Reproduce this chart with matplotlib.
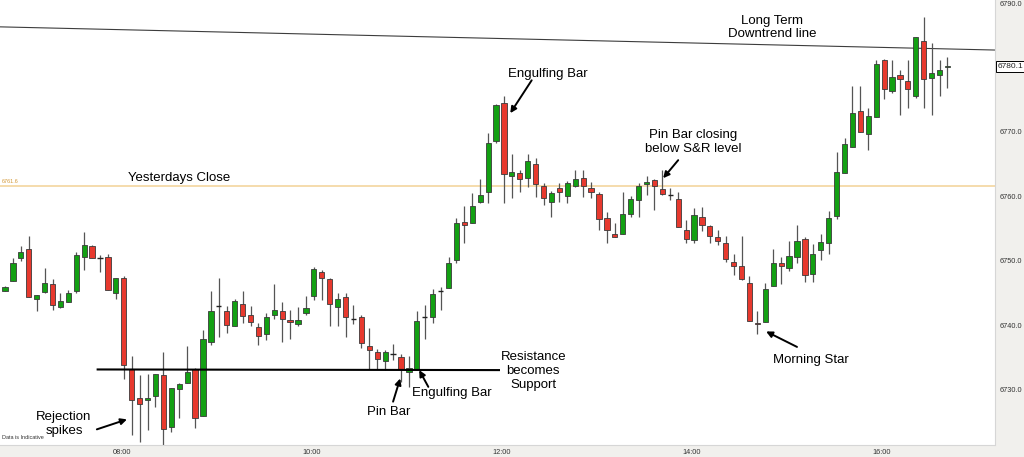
import matplotlib
matplotlib.use('Agg')
import matplotlib.pyplot as plt
import matplotlib.transforms as mtransforms
import numpy as np

# 5 minute bars
opens = [6745.3, 6746.8, 6750.4, 6751.8, 6744.0, 6745.1, 6746.3, 6742.8, 6743.5, 6745.3,
         6750.5, 6752.3, 6750.4, 6750.5, 6745.0, 6747.25, 6733.1, 6728.7, 6728.35, 6729.0,
         6732.2, 6724.2, 6730.0, 6731.0, 6733.1, 6725.9, 6737.3, 6743.0, 6742.2, 6739.8,
         6743.3, 6741.5, 6739.7, 6738.55, 6741.55, 6742.2, 6740.8, 6740.1, 6741.8, 6744.55,
         6748.3, 6747.1, 6742.8, 6744.3, 6741.0, 6741.3, 6736.8, 6735.8, 6734.4, 6735.5,
         6735.0, 6732.75, 6733.1, 6741.2, 6741.2, 6745.3, 6745.8, 6750.1, 6756.0, 6755.9,
         6759.15, 6760.7, 6768.6, 6774.5, 6763.2, 6763.55, 6762.8, 6765.0, 6761.6, 6759.15,
         6761.2, 6760.1, 6761.6, 6762.8, 6761.3, 6760.3, 6756.6, 6754.2, 6754.2, 6757.2,
         6759.4, 6761.9, 6762.5, 6761.1, 6760.2, 6759.6, 6754.75, 6753.2, 6756.7, 6755.3,
         6753.6, 6752.8, 6749.8, 6749.2, 6746.6, 6740.2, 6740.4, 6746.1, 6749.7, 6748.9,
         6750.6, 6753.3, 6747.9, 6751.6, 6752.8, 6757.0, 6763.65, 6767.7, 6773.2, 6769.65,
         6772.35, 6781.15, 6776.4, 6778.8, 6777.9, 6775.6, 6784.15, 6778.3, 6778.9, 6780.0]
highs = [6746.0, 6750.4, 6752.3, 6753.8, 6744.7, 6748.8, 6747.2, 6744.9, 6745.4, 6751.4,
         6754.5, 6752.5, 6750.9, 6751.0, 6747.25, 6747.6, 6735.2, 6732.2, 6732.4, 6732.4,
         6735.8, 6730.2, 6731.0, 6736.8, 6733.3, 6739.3, 6745.3, 6747.35, 6743.0, 6744.0,
         6745.3, 6743.0, 6740.3, 6741.8, 6746.4, 6743.5, 6742.3, 6742.8, 6744.5, 6749.0,
         6748.6, 6747.3, 6744.9, 6744.9, 6743.1, 6741.6, 6739.5, 6736.3, 6736.1, 6737.05,
         6735.5, 6735.2, 6742.1, 6743.1, 6745.55, 6745.9, 6750.5, 6756.6, 6758.5, 6760.55,
         6762.6, 6769.8, 6774.3, 6775.6, 6766.55, 6764.0, 6766.55, 6766.0, 6762.0, 6760.8,
         6762.0, 6762.4, 6764.0, 6764.1, 6762.25, 6760.6, 6757.6, 6755.8, 6760.6, 6760.1,
         6762.1, 6763.1, 6762.6, 6764.1, 6761.2, 6760.6, 6756.3, 6758.1, 6758.4, 6755.6,
         6754.75, 6753.9, 6751.1, 6753.8, 6747.6, 6742.1, 6746.6, 6751.75, 6750.6, 6753.1,
         6755.5, 6753.6, 6752.6, 6754.1, 6757.75, 6766.8, 6769.1, 6777.1, 6777.1, 6773.65,
         6781.15, 6781.3, 6781.15, 6779.6, 6781.15, 6784.8, 6787.8, 6783.75, 6781.15, 6781.65]
lows = [6745.3, 6746.8, 6750.0, 6744.3, 6742.1, 6745.0, 6742.3, 6742.6, 6743.5, 6745.0,
        6748.5, 6750.4, 6748.3, 6745.4, 6744.0, 6731.6, 6722.9, 6721.9, 6723.7, 6727.3,
        6721.4, 6723.4, 6725.5, 6731.0, 6724.0, 6725.9, 6736.9, 6738.2, 6738.7, 6739.8,
        6740.3, 6739.85, 6736.9, 6737.7, 6740.9, 6737.4, 6737.9, 6739.9, 6741.5, 6743.9,
        6743.9, 6739.85, 6739.85, 6738.2, 6740.2, 6736.5, 6733.1, 6733.1, 6733.0, 6734.6,
        6731.2, 6730.4, 6733.0, 6737.9, 6740.3, 6742.3, 6745.8, 6749.7, 6752.8, 6755.9,
        6758.9, 6758.9, 6768.2, 6758.9, 6759.7, 6760.7, 6761.4, 6759.9, 6758.6, 6756.7,
        6759.15, 6758.9, 6761.4, 6759.9, 6759.7, 6754.75, 6752.7, 6753.7, 6754.2, 6756.7,
        6756.7, 6760.2, 6757.85, 6760.2, 6759.4, 6755.2, 6752.7, 6752.7, 6754.6, 6752.7,
        6752.4, 6749.8, 6747.8, 6747.0, 6740.6, 6738.6, 6740.4, 6746.1, 6746.4, 6748.4,
        6749.7, 6746.7, 6746.7, 6750.1, 6751.1, 6756.5, 6763.6, 6767.6, 6769.9, 6767.2,
        6772.3, 6775.1, 6776.0, 6772.6, 6773.65, 6775.3, 6773.65, 6772.6, 6775.6, 6776.85]
closes = [6745.9, 6749.7, 6751.3, 6744.3, 6744.7, 6746.5, 6743.1, 6743.8, 6745.0, 6750.9,
          6752.5, 6750.4, 6750.4, 6745.4, 6747.25, 6733.8, 6728.4, 6727.8, 6728.7, 6732.4,
          6723.8, 6730.2, 6730.8, 6732.75, 6725.5, 6737.8, 6742.2, 6743.0, 6740.0, 6743.8,
          6741.4, 6740.4, 6738.3, 6741.3, 6742.4, 6741.0, 6740.4, 6740.8, 6742.7, 6748.65,
          6747.35, 6743.2, 6744.0, 6741.3, 6741.0, 6737.15, 6736.1, 6734.7, 6735.8, 6735.5,
          6733.1, 6733.3, 6740.6, 6741.2, 6744.8, 6745.3, 6749.6, 6755.8, 6755.6, 6758.5,
          6760.2, 6768.2, 6774.2, 6763.4, 6763.7, 6762.7, 6765.5, 6761.9, 6759.7, 6760.55,
          6760.7, 6762.0, 6762.6, 6761.6, 6760.7, 6756.4, 6754.75, 6753.7, 6757.3, 6759.6,
          6761.6, 6762.25, 6761.6, 6760.3, 6760.2, 6755.2, 6753.35, 6757.1, 6755.6, 6753.9,
          6753.1, 6750.2, 6749.2, 6747.1, 6740.6, 6740.1, 6745.55, 6749.6, 6749.2, 6750.7,
          6753.0, 6747.8, 6751.1, 6752.9, 6756.6, 6763.7, 6768.05, 6773.0, 6769.9, 6772.5,
          6780.6, 6776.65, 6778.55, 6778.15, 6776.65, 6784.7, 6778.15, 6779.1, 6779.6, 6780.1]

first_bar = 6 * 60 + 45   # minutes, bar 0
bar_len = 5
time_labels = ['08:00', '10:00', '12:00', '14:00', '16:00']
price_ticks = [6730, 6740, 6750, 6760, 6770, 6790]
last_price = 6780.1
yesterday_close = 6761.6
support_bars = [11.7, 63.3]
support_prices = [6733.1, 6733.0]
trend_prices = [6786.3, 6782.7]

plt.rcParams['font.family'] = ['Liberation Sans', 'DejaVu Sans']

fig = plt.figure(figsize=(10.24, 4.57), dpi=100, facecolor='#f1f0ed')
ax = fig.add_axes([0, 12 / 457, 995 / 1024, 445 / 457])
ax.set_facecolor('white')

o = np.array(opens)
h = np.array(highs)
l = np.array(lows)
c = np.array(closes)
x = np.arange(len(o))

xlim = (-0.63, 125.0)
ax.set_xlim(xlim)
ax.set_ylim(6721.37, 6790.47)

# reference lines
ax.axhline(yesterday_close, color='#f4d9a6', lw=1.3, zorder=0.5)
ax.plot(xlim, trend_prices, color='#3c3c3c', lw=0.8, zorder=0.6)
ax.plot(support_bars, support_prices, color='black', lw=1.5, zorder=3)

# candles
ax.vlines(x, l, h, color='#555555', lw=0.9, zorder=1)
doji = np.abs(c - o) < 0.05
up = c >= o
cols = np.where(up, '#13a013', '#e7392e')
lo = np.minimum(o, c)
hgt = np.maximum(np.abs(c - o), 0.15)
ax.bar(x[~doji], hgt[~doji], bottom=lo[~doji], width=0.66, color=cols[~doji],
       edgecolor='#3a3a3a', linewidth=0.6, zorder=2)
ax.hlines(o[doji], x[doji] - 0.33, x[doji] + 0.33, color='#222222', lw=1.0, zorder=2)

# axes
ax.yaxis.tick_right()
ax.set_yticks(price_ticks)
ax.set_yticklabels([f'{p:.1f}' for p in price_ticks])
tick_min = [int(t[:2]) * 60 + int(t[3:]) for t in time_labels]
ax.set_xticks([(m - first_bar) / bar_len - 0.25 for m in tick_min])
ax.set_xticklabels(time_labels)
ax.tick_params(axis='y', length=0, pad=3.6, labelsize=5.3, labelcolor='#333333')
ax.tick_params(axis='x', length=0, pad=3.0, labelsize=5.3, labelcolor='#333333')
for s in ['top', 'left']:
    ax.spines[s].set_visible(False)
for s in ['right', 'bottom']:
    ax.spines[s].set_color('#d6d6d6')
    ax.spines[s].set_linestyle((0, (1, 1)))
    ax.spines[s].set_linewidth(0.8)

trans = mtransforms.blended_transform_factory(ax.transAxes, ax.transData)
ax.text(1.003, last_price, f'{last_price:.1f}', transform=trans, ha='left', va='center',
        fontsize=6, color='#222222', clip_on=False,
        bbox=dict(boxstyle='square,pad=0.22', fc='white', ec='black', lw=0.7))
ax.text(0.002, yesterday_close + 0.35, f'{yesterday_close:.1f}', transform=trans,
        ha='left', va='bottom', fontsize=4, color='#d49a3a')
ax.text(0.002, 0.012, 'Data is Indicative', transform=ax.transAxes, ha='left',
        va='bottom', fontsize=4, color='#333333')

# annotations
fs = 9.5
arrow = dict(arrowstyle='-|>', color='black', lw=1.4, mutation_scale=9,
             shrinkA=0, shrinkB=0)
ax.text(96.85, 6786.2, 'Long Term\nDowntrend line', ha='center', va='center',
        fontsize=fs, linespacing=1.2)
ax.text(15.5, 6762.8, 'Yesterdays Close', ha='left', va='center', fontsize=fs)
ax.text(68.6, 6779.0, 'Engulfing Bar', ha='center', va='center', fontsize=fs)
ax.annotate('', xy=(63.8, 6772.9), xytext=(66.5, 6778.0), arrowprops=arrow)
ax.text(86.9, 6768.4, 'Pin Bar closing\nbelow S&R level', ha='center', va='center',
        fontsize=fs, linespacing=1.2)
ax.annotate('', xy=(83.1, 6762.8), xytext=(85.0, 6765.6), arrowprops=arrow)
ax.text(66.7, 6732.9, 'Resistance\nbecomes\nSupport', ha='center', va='center',
        fontsize=fs, linespacing=1.2,
        bbox=dict(fc='white', ec='none', pad=0.5))
ax.text(56.4, 6729.4, 'Engulfing Bar', ha='center', va='center', fontsize=fs)
ax.annotate('', xy=(52.3, 6733.0), xytext=(53.45, 6730.4), arrowprops=arrow)
ax.text(48.4, 6726.5, 'Pin Bar', ha='center', va='center', fontsize=fs)
ax.annotate('', xy=(49.9, 6731.7), xytext=(49.0, 6728.1), arrowprops=arrow)
ax.text(101.8, 6734.6, 'Morning Star', ha='center', va='center', fontsize=fs)
ax.annotate('', xy=(96.1, 6739.0), xytext=(100.0, 6736.6), arrowprops=arrow)
ax.text(7.45, 6724.6, 'Rejection\nspikes', ha='center', va='center', fontsize=fs,
        linespacing=1.2)
ax.annotate('', xy=(15.4, 6725.35), xytext=(11.6, 6723.8), arrowprops=arrow)

fig.savefig('out.png', dpi=100, facecolor=fig.get_facecolor())
